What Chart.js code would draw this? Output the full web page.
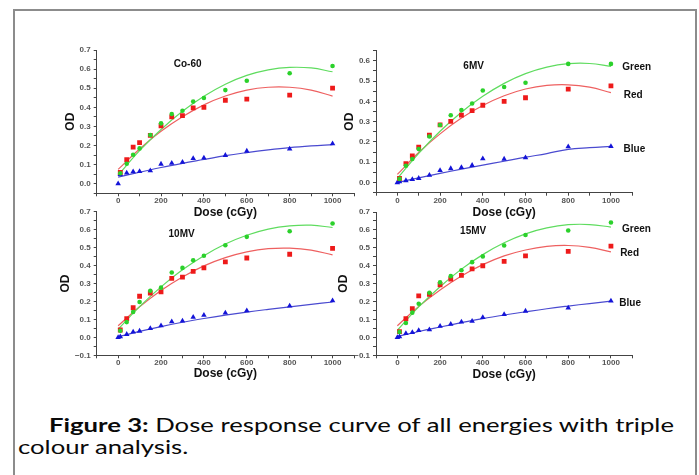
<!DOCTYPE html>
<html>
<head>
<meta charset="utf-8">
<script src="https://cdn.jsdelivr.net/npm/chart.js@4.4.1/dist/chart.umd.min.js"></script>
<style>
  body { margin: 0; background: #fff; width: 699px; height: 475px; overflow: hidden; position: relative; }
  .frame { position: absolute; left: 13px; top: 9px; width: 680px; height: 520px; border: 2px solid #8c8c8c; }
  canvas { position: absolute; }
  .caption { position: absolute; left: 18px; top: 415px; font-family: Lato, sans-serif; font-size: 18.5px; line-height: 21.6px; color: #0a0a0a; white-space: nowrap; transform-origin: 0 0; }
</style>
</head>
<body>
<div class="frame"></div>
<canvas id="p1" width="330" height="193" style="left:40px;top:30px"></canvas>
<canvas id="p2" width="335" height="193" style="left:340px;top:30px"></canvas>
<canvas id="p3" width="330" height="190" style="left:40px;top:195px"></canvas>
<canvas id="p4" width="339" height="190" style="left:336px;top:195px"></canvas>
<div class="caption" id="caption"><span id="line1"><b>Figure 3:</b> Dose response curve of all energies with triple</span><br>colour analysis.</div>
<script>
// measured doses (cGy) and x positions of the fitted curves
const doses = [0, 10, 40, 70, 100, 150, 200, 250, 300, 350, 400, 500, 600, 800, 1000];
const fitDoses = [0, 100, 200, 300, 400, 500, 600, 700, 800, 900, 1000];

// Co-60
const co60Green = [null, 0.055, 0.105, 0.152, 0.185, 0.255, 0.316, 0.365, 0.382, 0.430, 0.449, 0.490, 0.539, 0.578, 0.616];
const co60Red = [null, 0.059, 0.126, 0.192, 0.215, 0.253, 0.303, 0.350, 0.357, 0.397, 0.400, 0.437, 0.443, 0.464, 0.500];
const co60Blue = [0.000, 0.049, 0.057, 0.063, 0.065, 0.068, 0.103, 0.108, 0.113, 0.133, 0.135, 0.149, 0.171, 0.182, 0.210];
const co60GreenFit = [0.045, 0.173, 0.284, 0.379, 0.458, 0.521, 0.567, 0.596, 0.609, 0.606, 0.586];
const co60RedFit = [0.075, 0.182, 0.275, 0.351, 0.413, 0.459, 0.490, 0.505, 0.505, 0.490, 0.459];
const co60BlueFit = [0.035, 0.060, 0.085, 0.107, 0.127, 0.147, 0.163, 0.177, 0.189, 0.198, 0.205];

// 6MV
const mv6Green = [null, 0.018, 0.083, 0.116, 0.165, 0.227, 0.284, 0.332, 0.358, 0.390, 0.454, 0.471, 0.492, 0.585, 0.585];
const mv6Red = [null, 0.020, 0.093, 0.131, 0.175, 0.234, 0.284, 0.302, 0.332, 0.355, 0.381, 0.400, 0.418, 0.461, 0.477];
const mv6Blue = [0.000, 0.005, 0.010, 0.015, 0.021, 0.036, 0.060, 0.069, 0.075, 0.085, 0.118, 0.116, 0.123, 0.177, 0.178];
const mv6GreenFit = [0.020, 0.144, 0.253, 0.347, 0.425, 0.489, 0.537, 0.569, 0.586, 0.587, 0.573];
const mv6RedFit = [0.040, 0.148, 0.240, 0.318, 0.380, 0.428, 0.461, 0.479, 0.482, 0.470, 0.443];
const mv6BlueFit = [0.000, 0.023, 0.045, 0.066, 0.086, 0.105, 0.125, 0.143, 0.164, 0.172, 0.178];

// 10MV
const mv10Green = [null, 0.037, 0.085, 0.141, 0.197, 0.260, 0.277, 0.361, 0.387, 0.429, 0.455, 0.513, 0.560, 0.591, 0.634];
const mv10Red = [null, 0.041, 0.104, 0.165, 0.229, 0.247, 0.253, 0.329, 0.335, 0.368, 0.387, 0.420, 0.442, 0.463, 0.496];
const mv10Blue = [0.000, 0.004, 0.017, 0.030, 0.035, 0.050, 0.065, 0.087, 0.091, 0.112, 0.123, 0.136, 0.149, 0.175, 0.204];
const mv10GreenFit = [0.045, 0.171, 0.281, 0.376, 0.455, 0.520, 0.569, 0.603, 0.621, 0.625, 0.612];
const mv10RedFit = [0.065, 0.170, 0.261, 0.336, 0.398, 0.444, 0.476, 0.494, 0.497, 0.486, 0.459];
const mv10BlueFit = [0.003, 0.033, 0.060, 0.084, 0.105, 0.124, 0.141, 0.156, 0.170, 0.184, 0.197];

// 15MV
const mv15Green = [null, 0.030, 0.080, 0.138, 0.188, 0.249, 0.307, 0.342, 0.375, 0.420, 0.452, 0.513, 0.572, 0.597, 0.641];
const mv15Red = [null, 0.032, 0.104, 0.160, 0.232, 0.240, 0.294, 0.325, 0.346, 0.383, 0.400, 0.424, 0.455, 0.480, 0.509];
const mv15Blue = [0.000, 0.004, 0.022, 0.028, 0.039, 0.043, 0.063, 0.074, 0.086, 0.091, 0.112, 0.128, 0.147, 0.165, 0.204];
const mv15GreenFit = [0.040, 0.170, 0.283, 0.381, 0.462, 0.528, 0.578, 0.611, 0.629, 0.630, 0.616];
const mv15RedFit = [0.065, 0.173, 0.265, 0.343, 0.406, 0.455, 0.488, 0.508, 0.513, 0.502, 0.477];
const mv15BlueFit = [0.005, 0.033, 0.058, 0.082, 0.105, 0.125, 0.143, 0.160, 0.175, 0.189, 0.202];

const xTickLabels = [0, 200, 400, 600, 800, 1000];

const FONT = '"Liberation Sans", Arial, sans-serif';

function pairs(xs, ys) {
  return xs.map((x, i) => ({ x: x, y: ys[i] }));
}

// panel name, channel labels (data coords) and the rotated OD title
const panelText = {
  id: 'panelText',
  afterDraw(chart, args, opts) {
    const { ctx, scales, chartArea } = chart;
    ctx.save();
    ctx.fillStyle = '#111';
    ctx.font = 'bold 10px ' + FONT;
    ctx.textBaseline = 'middle';
    (opts.items || []).forEach(t => {
      ctx.textAlign = t.align || 'center';
      ctx.fillText(t.text, scales.x.getPixelForValue(t.x), scales.y.getPixelForValue(t.y));
    });
    // y axis title
    ctx.font = 'bold 12px ' + FONT;
    ctx.textAlign = 'center';
    ctx.translate(opts.odX, (chartArea.top + chartArea.bottom) / 2);
    ctx.rotate(-Math.PI / 2);
    ctx.fillText('OD', 0, 0);
    ctx.restore();
  }
};

function makePanel(id, box, area, yMin, yMax, s, items, odX, xTitlePad) {
  const pts = (data, color, style, r) => ({
    data: pairs(doses, data), backgroundColor: color, borderColor: color,
    pointStyle: style, pointRadius: r, pointBorderWidth: 0, showLine: false
  });
  const fit = (data, color) => ({
    data: pairs(fitDoses, data), borderColor: color, borderWidth: 1.2,
    pointRadius: 0, showLine: true, tension: 0.4, fill: false
  });

  new Chart(document.getElementById(id), {
    type: 'scatter',
    data: {
      datasets: [
        pts(s.green, '#2bd12b', 'circle', 2.3),
        pts(s.red, '#ee1a1a', 'rect', 3.4),
        pts(s.blue, '#1414d8', 'triangle', 3.2),
        fit(s.greenFit, '#5fdc5f'),
        fit(s.redFit, '#ee6060'),
        fit(s.blueFit, '#4a4ad0')
      ]
    },
    options: {
      responsive: false,
      animation: false,
      layout: { padding: { left: 0, bottom: 0, top: area.top - box.top, right: box.right - area.right } },
      plugins: {
        legend: { display: false }, tooltip: { enabled: false },
        panelText: { items: items, odX: odX - box.left }
      },
      scales: {
        x: {
          type: 'linear', min: -100, max: 1100,
          afterFit: sc => { sc.height = box.bottom - area.bottom; },
          border: { color: '#444', width: 1 },
          grid: { drawOnChartArea: false, drawTicks: true, tickLength: 3, color: '#444' },
          ticks: {
            stepSize: 100, padding: 0, color: '#555', maxRotation: 0, autoSkip: false,
            font: { family: FONT, size: 8, weight: 'bold' },
            callback: v => xTickLabels.includes(v) ? String(v) : ''
          },
          title: { display: true, text: 'Dose (cGy)', color: '#111', padding: { top: 0, bottom: xTitlePad },
                   font: { family: FONT, size: 12, weight: 'bold', lineHeight: 1 } }
        },
        y: {
          min: yMin, max: yMax,
          afterFit: sc => { sc.width = area.left - box.left; },
          border: { color: '#444', width: 1 },
          grid: { drawOnChartArea: false, drawTicks: true, tickLength: 3, color: '#444' },
          ticks: {
            stepSize: 0.05, padding: 3, color: '#555', autoSkip: false,
            font: { family: FONT, size: 8, weight: 'bold' },
            callback: v => {
              const t = Math.round(v * 100);
              if (t % 10 !== 0) return '';
              const s = (Math.abs(t) / 100).toFixed(1);
              return t < 0 ? '\u2212' + s : s;
            }
          },
          title: { display: false }
        }
      }
    },
    plugins: [panelText]
  });
}

makePanel('p1', { left: 40, top: 30, right: 370, bottom: 223 }, { left: 96.7, top: 50, right: 354, bottom: 193.3 },
  -0.05, 0.7,
  { green: co60Green, red: co60Red, blue: co60Blue, greenFit: co60GreenFit, redFit: co60RedFit, blueFit: co60BlueFit },
  [{ text: 'Co-60', x: 324, y: 0.627 }], 70.7, 4.3);

makePanel('p2', { left: 340, top: 30, right: 675, bottom: 223 }, { left: 376, top: 50.7, right: 632.3, bottom: 192.7 },
  -0.05, 0.65,
  { green: mv6Green, red: mv6Red, blue: mv6Blue, greenFit: mv6GreenFit, redFit: mv6RedFit, blueFit: mv6BlueFit },
  [{ text: '6MV', x: 357, y: 0.574 },
   { text: 'Green', x: 1053, y: 0.569, align: 'left' },
   { text: 'Red', x: 1060, y: 0.428, align: 'left' },
   { text: 'Blue', x: 1059, y: 0.162, align: 'left' }], 350, 4.3);

makePanel('p3', { left: 40, top: 195, right: 370, bottom: 385 }, { left: 96.7, top: 211.7, right: 354, bottom: 355.3 },
  -0.1, 0.7,
  { green: mv10Green, red: mv10Red, blue: mv10Blue, greenFit: mv10GreenFit, redFit: mv10RedFit, blueFit: mv10BlueFit },
  [{ text: '10MV', x: 296, y: 0.574 }], 65.3, 5);

makePanel('p4', { left: 336, top: 195, right: 675, bottom: 385 }, { left: 376, top: 212, right: 632.3, bottom: 355.3 },
  -0.1, 0.7,
  { green: mv15Green, red: mv15Red, blue: mv15Blue, greenFit: mv15GreenFit, redFit: mv15RedFit, blueFit: mv15BlueFit },
  [{ text: '15MV', x: 355, y: 0.593 },
   { text: 'Green', x: 1052, y: 0.604, align: 'left' },
   { text: 'Red', x: 1043, y: 0.472, align: 'left' },
   { text: 'Blue', x: 1039, y: 0.191, align: 'left' }], 344, 4.7);

// the caption in the reference is stretched: first line spans x 49..674
const caption = document.getElementById('caption');
const line1 = document.getElementById('line1');
const sx = 625 / line1.getBoundingClientRect().width;
line1.style.marginLeft = (31 / sx) + 'px';
caption.style.transform = 'scaleX(' + sx + ')';
</script>
</body>
</html>
